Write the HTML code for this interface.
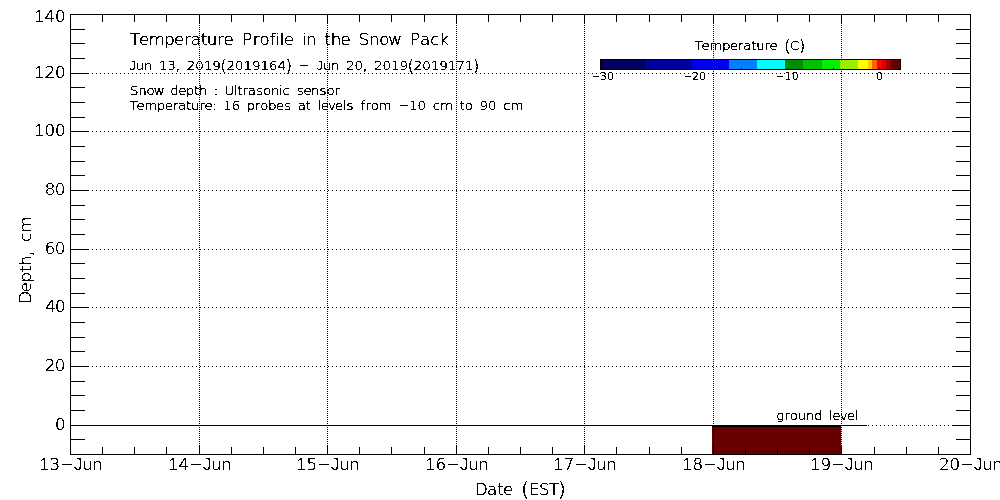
<!DOCTYPE html>
<html><head><meta charset="utf-8"><title>Temperature Profile in the Snow Pack</title>
<style>html,body{margin:0;padding:0;background:#fff;width:1000px;height:500px;overflow:hidden}
svg{display:block}
text{font-family:"DejaVu Sans", "Liberation Sans", sans-serif;font-weight:200;fill:#000;stroke:#000;stroke-width:0.3px}</style></head>
<body><svg width="1000" height="500" viewBox="0 0 1000 500" shape-rendering="crispEdges">
<rect x="0" y="0" width="1000" height="500" fill="#fff"/>
<rect x="712" y="427" width="129" height="27" fill="#660000"/>
<path d="M72 425.5H970" stroke="#000" stroke-dasharray="1 3"/>
<path d="M72 366.5H970" stroke="#000" stroke-dasharray="1 3"/>
<path d="M72 307.5H970" stroke="#000" stroke-dasharray="1 3"/>
<path d="M72 249.5H970" stroke="#000" stroke-dasharray="1 3"/>
<path d="M72 190.5H970" stroke="#000" stroke-dasharray="1 3"/>
<path d="M72 131.5H970" stroke="#000" stroke-dasharray="1 3"/>
<path d="M72 73.5H970" stroke="#000" stroke-dasharray="1 3"/>
<path d="M199.5 15V454" stroke="#000" stroke-dasharray="1 1"/>
<path d="M327.5 15V454" stroke="#000" stroke-dasharray="1 1"/>
<path d="M456.5 15V454" stroke="#000" stroke-dasharray="1 1"/>
<path d="M584.5 15V454" stroke="#000" stroke-dasharray="1 1"/>
<path d="M713.5 15V454" stroke="#000" stroke-dasharray="1 1"/>
<path d="M841.5 15V454" stroke="#000" stroke-dasharray="1 1"/>
<rect x="601" y="60" width="45" height="9" fill="#000060"/>
<rect x="646" y="60" width="46" height="9" fill="#00009c"/>
<rect x="692" y="60" width="37" height="9" fill="#0000f0"/>
<rect x="729" y="60" width="28" height="9" fill="#0080ff"/>
<rect x="757" y="60" width="28" height="9" fill="#00ffff"/>
<rect x="785" y="60" width="18" height="9" fill="#008c00"/>
<rect x="803" y="60" width="19" height="9" fill="#00c000"/>
<rect x="822" y="60" width="18" height="9" fill="#00f000"/>
<rect x="840" y="60" width="18" height="9" fill="#96f000"/>
<rect x="858" y="60" width="10" height="9" fill="#ffff00"/>
<rect x="868" y="60" width="4" height="9" fill="#ffc800"/>
<rect x="872" y="60" width="5" height="9" fill="#ff6400"/>
<rect x="877" y="60" width="5" height="9" fill="#ff0000"/>
<rect x="882" y="60" width="4" height="9" fill="#dc0000"/>
<rect x="886" y="60" width="5" height="9" fill="#a00000"/>
<rect x="891" y="60" width="9" height="9" fill="#640000"/>
<rect x="70" y="425" width="797" height="1" fill="#000"/>
<rect x="712" y="425" width="129" height="2" fill="#000"/>
<rect x="70" y="14" width="901" height="1" fill="#000"/>
<rect x="70" y="454" width="901" height="1" fill="#000"/>
<rect x="70" y="14" width="1" height="441" fill="#000"/>
<rect x="970" y="14" width="1" height="441" fill="#000"/>
<rect x="70" y="439" width="15" height="1" fill="#000"/>
<rect x="956" y="439" width="15" height="1" fill="#000"/>
<rect x="70" y="425" width="19" height="1" fill="#000"/>
<rect x="952" y="425" width="19" height="1" fill="#000"/>
<rect x="70" y="410" width="15" height="1" fill="#000"/>
<rect x="956" y="410" width="15" height="1" fill="#000"/>
<rect x="70" y="395" width="15" height="1" fill="#000"/>
<rect x="956" y="395" width="15" height="1" fill="#000"/>
<rect x="70" y="381" width="15" height="1" fill="#000"/>
<rect x="956" y="381" width="15" height="1" fill="#000"/>
<rect x="70" y="366" width="19" height="1" fill="#000"/>
<rect x="952" y="366" width="19" height="1" fill="#000"/>
<rect x="70" y="351" width="15" height="1" fill="#000"/>
<rect x="956" y="351" width="15" height="1" fill="#000"/>
<rect x="70" y="337" width="15" height="1" fill="#000"/>
<rect x="956" y="337" width="15" height="1" fill="#000"/>
<rect x="70" y="322" width="15" height="1" fill="#000"/>
<rect x="956" y="322" width="15" height="1" fill="#000"/>
<rect x="70" y="307" width="19" height="1" fill="#000"/>
<rect x="952" y="307" width="19" height="1" fill="#000"/>
<rect x="70" y="293" width="15" height="1" fill="#000"/>
<rect x="956" y="293" width="15" height="1" fill="#000"/>
<rect x="70" y="278" width="15" height="1" fill="#000"/>
<rect x="956" y="278" width="15" height="1" fill="#000"/>
<rect x="70" y="263" width="15" height="1" fill="#000"/>
<rect x="956" y="263" width="15" height="1" fill="#000"/>
<rect x="70" y="249" width="19" height="1" fill="#000"/>
<rect x="952" y="249" width="19" height="1" fill="#000"/>
<rect x="70" y="234" width="15" height="1" fill="#000"/>
<rect x="956" y="234" width="15" height="1" fill="#000"/>
<rect x="70" y="219" width="15" height="1" fill="#000"/>
<rect x="956" y="219" width="15" height="1" fill="#000"/>
<rect x="70" y="205" width="15" height="1" fill="#000"/>
<rect x="956" y="205" width="15" height="1" fill="#000"/>
<rect x="70" y="190" width="19" height="1" fill="#000"/>
<rect x="952" y="190" width="19" height="1" fill="#000"/>
<rect x="70" y="175" width="15" height="1" fill="#000"/>
<rect x="956" y="175" width="15" height="1" fill="#000"/>
<rect x="70" y="161" width="15" height="1" fill="#000"/>
<rect x="956" y="161" width="15" height="1" fill="#000"/>
<rect x="70" y="146" width="15" height="1" fill="#000"/>
<rect x="956" y="146" width="15" height="1" fill="#000"/>
<rect x="70" y="131" width="19" height="1" fill="#000"/>
<rect x="952" y="131" width="19" height="1" fill="#000"/>
<rect x="70" y="117" width="15" height="1" fill="#000"/>
<rect x="956" y="117" width="15" height="1" fill="#000"/>
<rect x="70" y="102" width="15" height="1" fill="#000"/>
<rect x="956" y="102" width="15" height="1" fill="#000"/>
<rect x="70" y="87" width="15" height="1" fill="#000"/>
<rect x="956" y="87" width="15" height="1" fill="#000"/>
<rect x="70" y="73" width="19" height="1" fill="#000"/>
<rect x="952" y="73" width="19" height="1" fill="#000"/>
<rect x="70" y="58" width="15" height="1" fill="#000"/>
<rect x="956" y="58" width="15" height="1" fill="#000"/>
<rect x="70" y="43" width="15" height="1" fill="#000"/>
<rect x="956" y="43" width="15" height="1" fill="#000"/>
<rect x="70" y="29" width="15" height="1" fill="#000"/>
<rect x="956" y="29" width="15" height="1" fill="#000"/>
<rect x="70" y="14" width="19" height="1" fill="#000"/>
<rect x="952" y="14" width="19" height="1" fill="#000"/>
<rect x="102" y="14" width="1" height="8" fill="#000"/>
<rect x="102" y="447" width="1" height="8" fill="#000"/>
<rect x="134" y="14" width="1" height="8" fill="#000"/>
<rect x="134" y="447" width="1" height="8" fill="#000"/>
<rect x="166" y="14" width="1" height="8" fill="#000"/>
<rect x="166" y="447" width="1" height="8" fill="#000"/>
<rect x="199" y="14" width="1" height="10" fill="#000"/>
<rect x="199" y="445" width="1" height="10" fill="#000"/>
<rect x="231" y="14" width="1" height="8" fill="#000"/>
<rect x="231" y="447" width="1" height="8" fill="#000"/>
<rect x="263" y="14" width="1" height="8" fill="#000"/>
<rect x="263" y="447" width="1" height="8" fill="#000"/>
<rect x="295" y="14" width="1" height="8" fill="#000"/>
<rect x="295" y="447" width="1" height="8" fill="#000"/>
<rect x="327" y="14" width="1" height="10" fill="#000"/>
<rect x="327" y="445" width="1" height="10" fill="#000"/>
<rect x="359" y="14" width="1" height="8" fill="#000"/>
<rect x="359" y="447" width="1" height="8" fill="#000"/>
<rect x="391" y="14" width="1" height="8" fill="#000"/>
<rect x="391" y="447" width="1" height="8" fill="#000"/>
<rect x="424" y="14" width="1" height="8" fill="#000"/>
<rect x="424" y="447" width="1" height="8" fill="#000"/>
<rect x="456" y="14" width="1" height="10" fill="#000"/>
<rect x="456" y="445" width="1" height="10" fill="#000"/>
<rect x="488" y="14" width="1" height="8" fill="#000"/>
<rect x="488" y="447" width="1" height="8" fill="#000"/>
<rect x="520" y="14" width="1" height="8" fill="#000"/>
<rect x="520" y="447" width="1" height="8" fill="#000"/>
<rect x="552" y="14" width="1" height="8" fill="#000"/>
<rect x="552" y="447" width="1" height="8" fill="#000"/>
<rect x="584" y="14" width="1" height="10" fill="#000"/>
<rect x="584" y="445" width="1" height="10" fill="#000"/>
<rect x="616" y="14" width="1" height="8" fill="#000"/>
<rect x="616" y="447" width="1" height="8" fill="#000"/>
<rect x="649" y="14" width="1" height="8" fill="#000"/>
<rect x="649" y="447" width="1" height="8" fill="#000"/>
<rect x="681" y="14" width="1" height="8" fill="#000"/>
<rect x="681" y="447" width="1" height="8" fill="#000"/>
<rect x="713" y="14" width="1" height="10" fill="#000"/>
<rect x="713" y="445" width="1" height="10" fill="#000"/>
<rect x="745" y="14" width="1" height="8" fill="#000"/>
<rect x="745" y="447" width="1" height="8" fill="#000"/>
<rect x="777" y="14" width="1" height="8" fill="#000"/>
<rect x="777" y="447" width="1" height="8" fill="#000"/>
<rect x="809" y="14" width="1" height="8" fill="#000"/>
<rect x="809" y="447" width="1" height="8" fill="#000"/>
<rect x="841" y="14" width="1" height="10" fill="#000"/>
<rect x="841" y="445" width="1" height="10" fill="#000"/>
<rect x="874" y="14" width="1" height="8" fill="#000"/>
<rect x="874" y="447" width="1" height="8" fill="#000"/>
<rect x="906" y="14" width="1" height="8" fill="#000"/>
<rect x="906" y="447" width="1" height="8" fill="#000"/>
<rect x="938" y="14" width="1" height="8" fill="#000"/>
<rect x="938" y="447" width="1" height="8" fill="#000"/>
<rect x="600.5" y="59.5" width="300" height="10" fill="none" stroke="#000"/>
<rect x="602" y="68" width="1" height="1" fill="#000"/>
<rect x="648" y="68" width="1" height="1" fill="#000"/>
<rect x="695" y="68" width="1" height="1" fill="#000"/>
<rect x="741" y="68" width="1" height="1" fill="#000"/>
<rect x="787" y="68" width="1" height="1" fill="#000"/>
<rect x="833" y="68" width="1" height="1" fill="#000"/>
<rect x="879" y="68" width="1" height="1" fill="#000"/>
<filter id="th" x="0" y="0" width="1000" height="500" filterUnits="userSpaceOnUse" color-interpolation-filters="sRGB"><feComponentTransfer><feFuncA type="discrete" tableValues="0 1"/></feComponentTransfer></filter>
<g filter="url(#th)">
<text transform="scale(1.100 1)" x="31.19 40.47 50.11" y="21.80 21.80 21.80" font-size="15.20"><tspan font-family="Liberation Sans" font-weight="400" font-size="16.11" stroke-width="0">1</tspan>40</text>
<text transform="scale(1.100 1)" x="31.19 40.47 50.11" y="77.80 77.80 77.80" font-size="15.20"><tspan font-family="Liberation Sans" font-weight="400" font-size="16.11" stroke-width="0">1</tspan>20</text>
<text transform="scale(1.100 1)" x="31.19 40.47 50.11" y="135.80 135.80 135.80" font-size="15.20"><tspan font-family="Liberation Sans" font-weight="400" font-size="16.11" stroke-width="0">1</tspan>00</text>
<text transform="scale(1.100 1)" x="40.58 49.71" y="194.80 194.80" font-size="15.20">80</text>
<text transform="scale(1.100 1)" x="40.58 49.71" y="253.80 253.80" font-size="15.20">60</text>
<text transform="scale(1.100 1)" x="41.25 49.90" y="311.80 311.80" font-size="15.20">40</text>
<text transform="scale(1.100 1)" x="40.58 49.71" y="370.80 370.80" font-size="15.20">20</text>
<text transform="scale(1.100 1)" x="49.93" y="429.80" font-size="15.20">0</text>
<text transform="scale(1.100 1)" x="35.74 45.02 54.99 67.03 74.67 83.82" y="469.80 469.80 468.70 469.80 469.80 469.80" font-size="15.20"><tspan font-family="Liberation Sans" font-weight="400" font-size="16.11" stroke-width="0">1</tspan>3<tspan textLength="11.89" lengthAdjust="spacingAndGlyphs">-</tspan><tspan font-family="Liberation Sans" font-weight="400" font-size="16.11" stroke-width="0">J</tspan>un</text>
<text transform="scale(1.100 1)" x="153.01 162.29 172.26 184.30 191.94 201.10" y="469.80 469.80 468.70 469.80 469.80 469.80" font-size="15.20"><tspan font-family="Liberation Sans" font-weight="400" font-size="16.11" stroke-width="0">1</tspan>4<tspan textLength="11.89" lengthAdjust="spacingAndGlyphs">-</tspan><tspan font-family="Liberation Sans" font-weight="400" font-size="16.11" stroke-width="0">J</tspan>un</text>
<text transform="scale(1.100 1)" x="269.37 278.66 288.63 300.66 308.31 317.46" y="469.80 469.80 468.70 469.80 469.80 469.80" font-size="15.20"><tspan font-family="Liberation Sans" font-weight="400" font-size="16.11" stroke-width="0">1</tspan>5<tspan textLength="11.89" lengthAdjust="spacingAndGlyphs">-</tspan><tspan font-family="Liberation Sans" font-weight="400" font-size="16.11" stroke-width="0">J</tspan>un</text>
<text transform="scale(1.100 1)" x="386.65 395.93 405.90 417.94 425.58 434.73" y="469.80 469.80 468.70 469.80 469.80 469.80" font-size="15.20"><tspan font-family="Liberation Sans" font-weight="400" font-size="16.11" stroke-width="0">1</tspan>6<tspan textLength="11.89" lengthAdjust="spacingAndGlyphs">-</tspan><tspan font-family="Liberation Sans" font-weight="400" font-size="16.11" stroke-width="0">J</tspan>un</text>
<text transform="scale(1.100 1)" x="503.01 512.29 522.26 534.30 541.94 551.10" y="469.80 469.80 468.70 469.80 469.80 469.80" font-size="15.20"><tspan font-family="Liberation Sans" font-weight="400" font-size="16.11" stroke-width="0">1</tspan>7<tspan textLength="11.89" lengthAdjust="spacingAndGlyphs">-</tspan><tspan font-family="Liberation Sans" font-weight="400" font-size="16.11" stroke-width="0">J</tspan>un</text>
<text transform="scale(1.100 1)" x="620.28 629.56 639.54 651.57 659.22 668.37" y="469.80 469.80 468.70 469.80 469.80 469.80" font-size="15.20"><tspan font-family="Liberation Sans" font-weight="400" font-size="16.11" stroke-width="0">1</tspan>8<tspan textLength="11.89" lengthAdjust="spacingAndGlyphs">-</tspan><tspan font-family="Liberation Sans" font-weight="400" font-size="16.11" stroke-width="0">J</tspan>un</text>
<text transform="scale(1.100 1)" x="736.65 745.93 755.90 767.94 775.58 784.73" y="469.80 469.80 468.70 469.80 469.80 469.80" font-size="15.20"><tspan font-family="Liberation Sans" font-weight="400" font-size="16.11" stroke-width="0">1</tspan>9<tspan textLength="11.89" lengthAdjust="spacingAndGlyphs">-</tspan><tspan font-family="Liberation Sans" font-weight="400" font-size="16.11" stroke-width="0">J</tspan>un</text>
<text transform="scale(1.100 1)" x="853.56 863.20 873.17 885.21 892.85 902.01" y="469.80 469.80 468.70 469.80 469.80 469.80" font-size="15.20">20<tspan textLength="11.89" lengthAdjust="spacingAndGlyphs">-</tspan><tspan font-family="Liberation Sans" font-weight="400" font-size="16.11" stroke-width="0">J</tspan>un</text>
<text transform="scale(1.100 1)" x="431.88 442.71 451.86 457.39 467.84 473.75 480.63 490.00 498.86 506.99" y="494.80 494.80 494.80 494.80 494.80 496.04 494.80 494.80 494.80 496.04" font-size="15.20">Date <tspan font-size="19.15">(</tspan>EST<tspan font-size="19.15">)</tspan></text>
<text transform="scale(1.100 1)" x="118.21 126.29 135.02 149.29 158.27 167.22 173.33 182.40 187.96 197.29 203.14 213.52 220.18 229.75 235.86 245.24 250.57 254.39 258.03 268.41 274.44 278.18 288.93 295.05 300.61 309.58 319.96 326.14 335.46 344.69 352.91 365.78 372.44 381.91 391.22 399.35" y="44.80 44.80 44.80 44.80 44.80 44.80 44.80 44.80 44.80 44.80 44.80 44.80 44.80 44.80 44.80 44.80 44.80 44.80 44.80 44.80 44.80 44.80 44.80 44.80 44.80 44.80 44.80 44.80 44.80 44.80 44.80 44.80 44.80 44.80 44.80 44.80" font-size="15.20">Temperature Profile in the Snow Pack</text>
<text transform="scale(1.100 1)" x="117.26 123.37 130.69 139.36 144.35 152.05 158.80 164.78 169.77 177.48 185.18 192.88 200.31 205.98 213.68 221.39 229.09 236.80 244.50 252.20 259.63 266.47 271.75 282.65 287.52 293.63 300.95 309.61 314.61 322.31 329.06 335.04 340.03 347.73 355.44 363.14 370.57 376.24 383.94 391.65 399.35 407.05 414.76 422.46 429.89" y="69.80 69.80 69.80 69.80 69.80 69.80 69.63 69.80 69.80 69.80 69.80 69.80 70.80 69.80 69.80 69.80 69.80 69.80 69.80 69.80 70.80 69.80 68.90 69.80 69.80 69.80 69.80 69.80 69.80 69.80 69.63 69.80 69.80 69.80 69.80 69.80 70.80 69.80 69.80 69.80 69.80 69.80 69.80 69.80 70.80" font-size="12.20"><tspan font-family="Liberation Sans" font-weight="400" font-size="12.93" stroke-width="0">J</tspan>un 13<tspan font-size="18.30">,</tspan> 2019<tspan font-size="15.37">(</tspan>2019164<tspan font-size="15.37">)</tspan> <tspan textLength="9.51" lengthAdjust="spacingAndGlyphs">-</tspan> <tspan font-family="Liberation Sans" font-weight="400" font-size="12.93" stroke-width="0">J</tspan>un 20<tspan font-size="18.30">,</tspan> 2019<tspan font-size="15.37">(</tspan>2019171<tspan font-size="15.37">)</tspan></text>
<text transform="scale(1.100 1)" x="118.27 125.73 133.13 139.71 150.02 154.78 161.97 168.92 176.33 180.78 189.40 194.25 199.33 204.07 212.58 215.70 220.36 225.25 232.69 239.02 246.15 253.48 256.79 264.70 269.77 275.88 282.84 290.41 296.74 304.08" y="94.80 94.80 94.80 94.80 94.80 94.80 94.80 94.80 94.80 94.80 94.80 94.80 94.80 94.80 94.80 94.80 94.80 94.80 94.80 94.80 94.80 94.80 94.80 94.80 94.80 94.80 94.80 94.80 94.80 94.80" font-size="12.20">Snow depth : Ultrasonic sensor</text>
<text transform="scale(1.100 1)" x="117.66 124.15 131.15 142.61 149.82 157.00 161.90 169.18 173.65 181.14 185.83 192.89 197.99 202.94 210.60 219.44 224.21 231.71 236.61 243.75 250.96 258.24 265.80 270.70 277.99 283.80 288.65 291.57 298.22 304.59 311.63 314.94 322.50 327.65 332.08 336.99 344.16 356.98 362.24 371.89 379.56 388.39 393.49 400.10 412.91 417.82 422.42 430.92 435.87 443.54 452.37 457.47 464.08" y="109.80 109.80 109.80 109.80 109.80 109.80 109.80 109.80 109.80 109.80 109.80 109.80 109.80 109.80 109.80 109.80 109.80 109.80 109.80 109.80 109.80 109.80 109.80 109.80 109.80 109.80 109.80 109.80 109.80 109.80 109.80 109.80 109.80 109.80 109.80 109.80 109.80 109.80 108.90 109.80 109.80 109.80 109.80 109.80 109.80 109.80 109.80 109.80 109.80 109.80 109.80 109.80 109.80" font-size="12.20">Temperature: 16 probes at levels from <tspan textLength="9.45" lengthAdjust="spacingAndGlyphs">-</tspan>10 cm to 90 cm</text>
<text transform="scale(1.100 1)" x="631.31 637.81 644.84 656.32 663.54 670.74 675.66 682.96 687.44 694.94 699.65 707.99 712.69 718.15 726.14" y="49.80 49.80 49.80 49.80 49.80 49.80 49.80 49.80 49.80 49.80 49.80 49.80 50.80 49.80 50.80" font-size="12.20">Temperature <tspan font-size="15.37">(</tspan>C<tspan font-size="15.37">)</tspan></text>
<text transform="scale(1.100 1)" x="537.77 545.57 551.76" y="78.90 79.80 79.80" font-size="9.80"><tspan textLength="7.63" lengthAdjust="spacingAndGlyphs">-</tspan>30</text>
<text transform="scale(1.100 1)" x="621.40 629.21 635.39" y="78.90 79.80 79.80" font-size="9.80"><tspan textLength="7.63" lengthAdjust="spacingAndGlyphs">-</tspan>20</text>
<text transform="scale(1.100 1)" x="705.05 713.40 719.89" y="78.90 79.80 79.80" font-size="9.80"><tspan textLength="8.01" lengthAdjust="spacingAndGlyphs">-</tspan>10</text>
<text transform="scale(1.100 1)" x="796.63" y="79.80" font-size="9.80">0</text>
<text transform="scale(1.100 1)" x="705.63 713.01 718.00 725.26 732.65 740.04 748.77 753.69 756.68 763.44 769.91 777.02" y="419.80 419.80 419.80 419.80 419.80 419.80 419.80 419.80 419.80 419.80 419.80 419.80" font-size="12.20">ground level</text>
<text transform="translate(30.80 302.00) rotate(-90) scale(1.100 1)" x="-1.70 8.87 17.63 26.95 32.58 40.76 48.23 54.66 63.00" y="0.00 0.00 0.00 0.00 0.00 -0.21 0.00 0.00 0.00" font-size="15.20">Depth<tspan font-size="22.80">,</tspan> cm</text>
</g>
</svg></body></html>
